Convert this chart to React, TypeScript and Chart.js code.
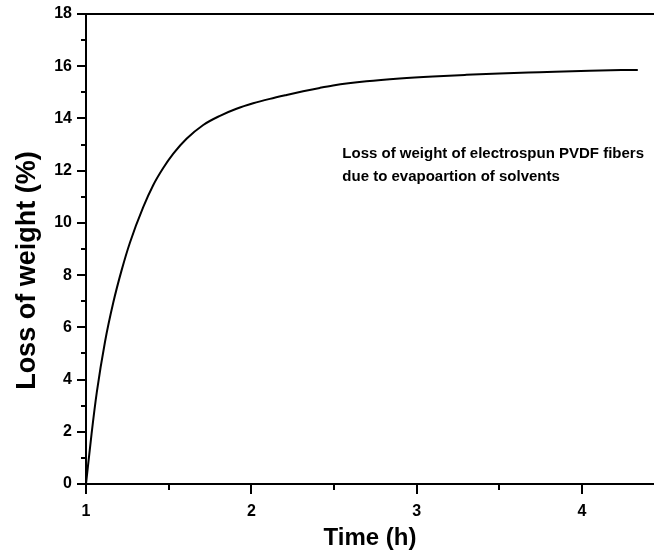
import React, { useEffect, useRef } from "react";
import { Chart, registerables } from "chart.js";

Chart.register(...registerables);

const timeHours = [1.0, 1.034, 1.065, 1.115, 1.165, 1.216, 1.266, 1.346, 1.407, 1.467, 1.528, 1.608, 1.709, 1.81, 1.91, 2.011, 2.112, 2.213, 2.313, 2.414, 2.494, 2.696, 2.897, 3.098, 3.3, 3.5, 3.743, 4.045, 4.337];
const lossPercent = [0, 1.94, 3.5, 5.45, 6.95, 8.2, 9.25, 10.6, 11.45, 12.1, 12.65, 13.22, 13.75, 14.1, 14.37, 14.58, 14.75, 14.9, 15.04, 15.17, 15.26, 15.42, 15.53, 15.61, 15.67, 15.72, 15.77, 15.83, 15.86];

const xTitle = "Time (h)";
const yTitle = "Loss of weight (%)";
const noteLines = ["Loss of weight of electrospun PVDF fibers", "due to evapoartion of solvents"];
const noteAnchor = { x: 2.55, y: 12.49 };

const FONT = "'Liberation Sans', Arial, Helvetica, sans-serif";

const tickPlugin = {
  id: "customTicks",
  afterDraw(chart: any) {
    const ctx = chart.ctx;
    const area = chart.chartArea;
    const xs = chart.scales.x;
    const ys = chart.scales.y;
    ctx.save();
    ctx.strokeStyle = "#000";
    ctx.lineWidth = 2;
    ctx.beginPath();
    ctx.moveTo(area.left, area.top);
    ctx.lineTo(area.right, area.top);
    ctx.stroke();
    ys.ticks.forEach((t: any) => {
      const v = t.value;
      if (Math.abs(v - Math.round(v)) > 1e-6) return;
      const major = Math.round(v) % 2 === 0;
      const py = Math.round(ys.getPixelForValue(v));
      ctx.beginPath();
      ctx.moveTo(area.left - (major ? 9 : 5), py);
      ctx.lineTo(area.left, py);
      ctx.stroke();
    });
    xs.ticks.forEach((t: any) => {
      const v = t.value;
      if (Math.abs(v * 2 - Math.round(v * 2)) > 1e-6) return;
      const major = Math.abs(v - Math.round(v)) < 1e-6;
      const px = Math.round(xs.getPixelForValue(v));
      ctx.beginPath();
      ctx.moveTo(px, area.bottom);
      ctx.lineTo(px, area.bottom + (major ? 10 : 6));
      ctx.stroke();
    });
    ctx.fillStyle = "#000";
    ctx.font = `bold 15px ${FONT}`;
    ctx.textAlign = "left";
    ctx.textBaseline = "alphabetic";
    const nx = xs.getPixelForValue(noteAnchor.x);
    const ny = ys.getPixelForValue(noteAnchor.y);
    noteLines.forEach((line, i) => {
      ctx.fillText(line, nx, ny + i * 23);
    });
    // y-axis title
    ctx.save();
    ctx.translate(28, area.top + (area.bottom - area.top) * 0.546);
    ctx.rotate(-Math.PI / 2);
    ctx.font = `bold 27px ${FONT}`;
    ctx.textAlign = "center";
    ctx.textBaseline = "middle";
    ctx.fillText(yTitle, 0, 0);
    ctx.restore();
    ctx.restore();
  },
};

export default function App() {
  const canvasRef = useRef<HTMLCanvasElement | null>(null);

  useEffect(() => {
    document.body.style.margin = "0";
    const canvas = canvasRef.current;
    if (!canvas) return;
    const chart = new Chart(canvas, {
      type: "line",
      data: {
        datasets: [
          {
            data: timeHours.map((t, i) => ({ x: t, y: lossPercent[i] })),
            borderColor: "#000",
            borderWidth: 2,
            pointRadius: 0,
            cubicInterpolationMode: "monotone",
            fill: false,
          },
        ],
      },
      options: {
        animation: false,
        responsive: false,
        maintainAspectRatio: false,
        layout: { padding: { top: 14, right: 0, left: 0, bottom: 0 } },
        plugins: { legend: { display: false }, tooltip: { enabled: false } },
        scales: {
          x: {
            type: "linear",
            min: 1,
            max: 4.435,
            afterFit: (s: any) => {
              s.height = 69;
              s.paddingLeft = 0;
              s.paddingRight = 0;
            },
            border: { display: true, color: "#000", width: 2 },
            grid: { display: false, drawTicks: false },
            ticks: {
              stepSize: 0.5,
              autoSkip: false,
              maxRotation: 0,
              padding: 18,
              color: "#000",
              font: { family: FONT, size: 16, weight: "bold" },
              callback: (v: any) => (Math.abs(v - Math.round(v)) < 1e-6 ? String(Math.round(v)) : ""),
            },
            title: {
              display: true,
              text: xTitle,
              color: "#000",
              font: { family: FONT, size: 24, weight: "bold" },
              padding: { top: 0, bottom: 0 },
            },
          },
          y: {
            type: "linear",
            min: 0,
            max: 18,
            afterFit: (s: any) => {
              s.width = 86;
              s.paddingTop = 0;
              s.paddingBottom = 0;
            },
            border: { display: true, color: "#000", width: 2 },
            grid: { display: false, drawTicks: false },
            ticks: {
              stepSize: 1,
              autoSkip: false,
              padding: 14,
              color: "#000",
              font: { family: FONT, size: 16, weight: "bold" },
              callback: (v: any) => (Math.round(v) % 2 === 0 ? String(Math.round(v)) : ""),
            },
            title: { display: false },
          },
        },
      },
      plugins: [tickPlugin],
    } as any);
    return () => chart.destroy();
  }, []);

  return (
    <div style={{ width: 654, height: 553, background: "#fff" }}>
      <canvas ref={canvasRef} width={654} height={553} style={{ display: "block" }} />
    </div>
  );
}
